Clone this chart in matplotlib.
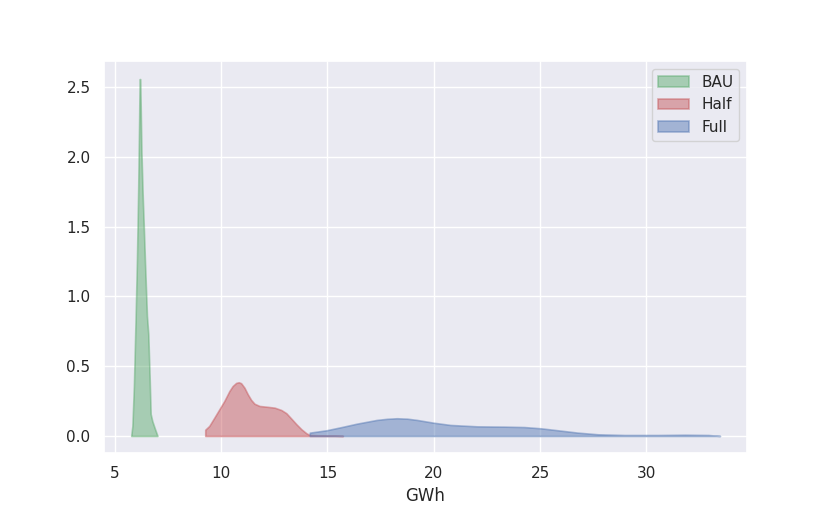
import matplotlib
matplotlib.use("Agg")
import matplotlib.pyplot as plt
import seaborn as sns

sns.set_theme(style="darkgrid")
plt.rcParams['font.family'] = ['DejaVu Sans']

# Density curves (x in GWh, y = density)
bau_x = [5.770, 5.827, 5.898, 5.978, 6.040, 6.101, 6.144, 6.167, 6.196, 6.252,
         6.309, 6.371, 6.418, 6.512, 6.574, 6.630, 6.687, 6.763, 6.890, 7.008]
bau_y = [0.0, 0.072, 0.358, 0.845, 1.254, 1.777, 2.256, 2.557, 2.557, 2.042,
         1.734, 1.468, 1.254, 0.860, 0.731, 0.466, 0.158, 0.107, 0.050, 0.0]

half_x = [9.253, 9.253, 9.442, 9.679, 9.915, 10.151, 10.388, 10.543, 10.704, 10.827,
          10.940, 11.096, 11.252, 11.413, 11.569, 11.805, 12.122, 12.514, 12.831, 13.067,
          13.303, 13.540, 13.776, 14.012, 14.168, 14.641, 15.200, 15.728]
half_y = [0.0, 0.045, 0.072, 0.131, 0.191, 0.251, 0.322, 0.358, 0.380, 0.385,
          0.378, 0.346, 0.299, 0.258, 0.231, 0.215, 0.210, 0.203, 0.186, 0.163,
          0.124, 0.084, 0.048, 0.019, 0.007, 0.004, 0.003, 0.0]

full_x = [14.168, 14.168, 14.957, 15.700, 16.375, 17.320, 17.800, 18.266, 18.750, 19.211,
          19.995, 20.784, 22.046, 23.303, 24.248, 25.038, 25.827, 26.772, 27.717, 28.975,
          30.553, 31.810, 32.916, 33.464]
full_y = [0.0, 0.024, 0.041, 0.065, 0.088, 0.115, 0.123, 0.127, 0.124, 0.115,
          0.095, 0.079, 0.069, 0.067, 0.064, 0.055, 0.041, 0.024, 0.012, 0.007,
          0.007, 0.009, 0.007, 0.0]

series = [("BAU", bau_x, bau_y, "#55A868"),
          ("Half", half_x, half_y, "#C44E52"),
          ("Full", full_x, full_y, "#4C72B0")]

fig, ax = plt.subplots(figsize=(8.3, 5.09), dpi=100)
for name, xs, ys, c in series:
    ax.fill_between(xs, 0, ys, facecolor=c, edgecolor=c, alpha=0.45, linewidth=1.2, label=name)

ax.set_xlim(4.48, 34.73)
ax.set_ylim(-0.122, 2.686)
ax.set_xticks([5, 10, 15, 20, 25, 30])
ax.set_yticks([0.0, 0.5, 1.0, 1.5, 2.0, 2.5])
ax.set_xlabel("GWh")
ax.legend(loc="upper right")
fig.savefig("out.png", dpi=100)
